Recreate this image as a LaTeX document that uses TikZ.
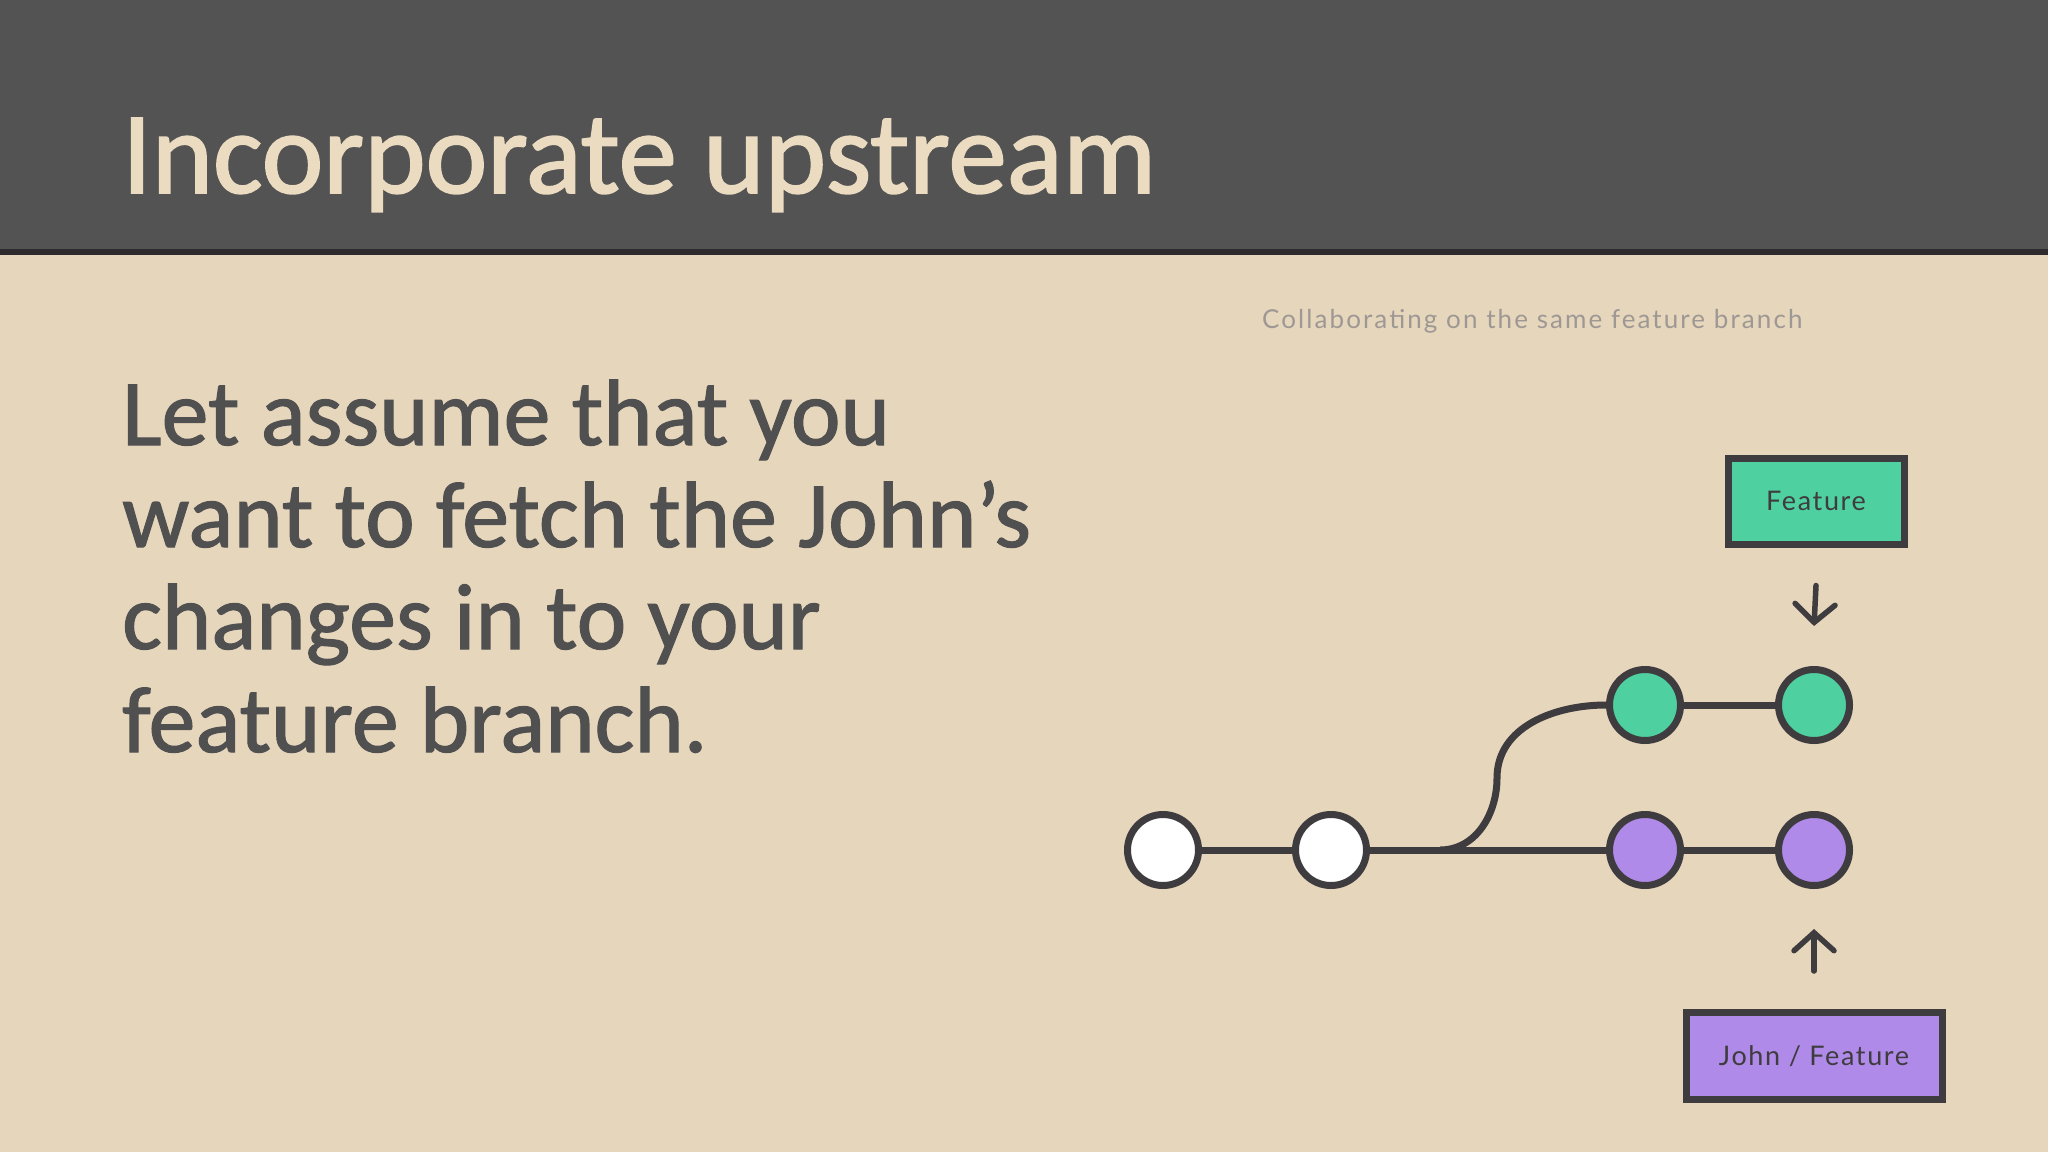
\documentclass[tikz,border=0pt]{standalone}
\usepackage{fontspec}
\setmainfont{Carlito}
\newfontfamily\headfont[FakeBold=1.5]{Carlito}
\newfontfamily\bodyfont[FakeBold=1.2]{Carlito}
\newfontfamily\capfont[LetterSpace=8]{Lato}
\newfontfamily\boxfont[LetterSpace=6]{Lato}
\usetikzlibrary{arrows.meta}

\definecolor{paper}{HTML}{E6D6BC}
\definecolor{headgray}{HTML}{535353}
\definecolor{rulegray}{HTML}{2E2A2D}
\definecolor{titlecol}{HTML}{EADBC1}
\definecolor{bodycol}{HTML}{505050}
\definecolor{capcol}{HTML}{9E9894}
\definecolor{ink}{HTML}{3E3C3E}
\definecolor{mint}{HTML}{4FD0A1}
\definecolor{lilac}{HTML}{B08AE8}

\begin{document}
\begin{tikzpicture}[x = 1pt, y = -1pt,
  commit/.style = {circle, draw = ink, line width = 7pt, minimum size = 71pt, inner sep = 0pt},
  branchbox/.style = {draw = ink, line width = 7pt, inner sep = 0pt, text = ink,
    font = \boxfont\fontsize{27}{27}\selectfont},
  link/.style = {draw = ink, line width = 7pt},
  pointer/.style = {draw = ink, line width = 5.5pt, line cap = round,
    -{Straight Barb[length = 18pt, width = 40pt, line cap = round]}},
  txt/.style = {anchor = base west, inner sep = 0pt}]
\useasboundingbox (0, 0) rectangle (2048, 1152);
%\draw [very thin, color = gray](0, 0) grid [step = 100] (2048, 1152);
\fill [paper] (0, 0) rectangle (2048, 1152);
\fill [headgray] (0, 0) rectangle (2048, 249);
\fill [rulegray] (0, 249) rectangle (2048, 255);
\node [txt, text = titlecol, font = \headfont\fontsize{117}{117}\selectfont] (title) at (122, 193) {Incorporate upstream};
% body text, one node per line
\foreach \ln/\yy in {1/445, 2/547, 3/649, 4/752}
  \node [txt, text = bodycol, font = \bodyfont\fontsize{94}{94}\selectfont] (body\ln) at (122, \yy)
    {\ifcase\ln\or Let assume that you\or want to fetch the John’s\or changes in to your\or feature branch.\fi};
\node [txt, text = capcol, font = \capfont\fontsize{26}{26}\selectfont] (caption) at (1262, 328)
  {Collaborating on the same feature branch};
\node [commit, fill = white] (w1) at (1163, 850) {};
\node [commit, fill = white] (w2) at (1331, 850) {};
\node [commit, fill = lilac] (p1) at (1645, 850) {};
\node [commit, fill = lilac] (p2) at (1814, 850) {};
\node [commit, fill = mint] (g1) at (1645, 705) {};
\node [commit, fill = mint] (g2) at (1814, 705) {};
\coordinate (fork) at (1440, 850);
\coordinate (bend) at (1497, 778);
\draw [link] (w1) -- (w2);
\draw [link] (w2) -- (p1);
\draw [link] (p1) -- (p2);
\draw [link] (g1) -- (g2);
\draw [link] (fork) to [out = 0, in = -90] (bend) to [out = 90, in = 180] (g1.west);
\node [branchbox, fill = mint, minimum width = 176pt, minimum height = 86pt] (feature) at (1816, 501) {Feature};
\node [branchbox, fill = lilac, minimum width = 256pt, minimum height = 87pt] (john) at (1814, 1056) {John / Feature};
\draw [pointer] ([yshift = -38pt]feature.south) -- ([yshift = 40pt]g2.north);
\draw [pointer] ([yshift = 38pt]john.north) -- ([yshift = -40pt]p2.south);
\end{tikzpicture}
\end{document}
